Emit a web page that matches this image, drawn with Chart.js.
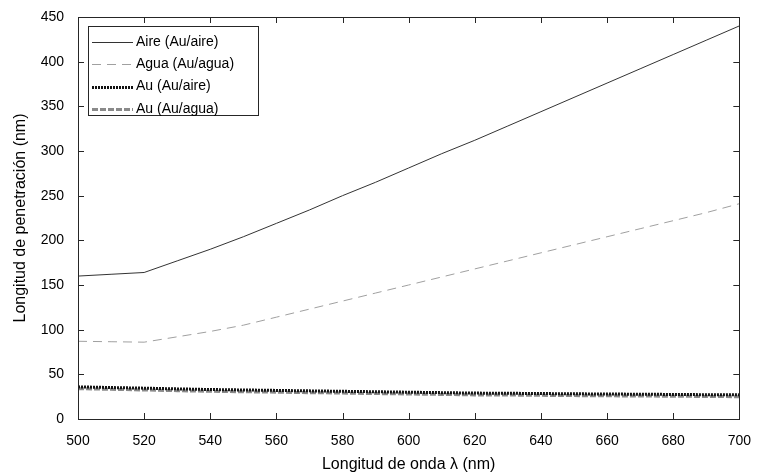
<!DOCTYPE html>
<html lang="es">
<head>
  <meta charset="UTF-8">
  <title>Longitud de penetración</title>
  <style>
    body { margin: 0; padding: 0; background: #fff; }
    #wrap { width: 757px; height: 474px; }
  </style>
  <script src="https://cdn.jsdelivr.net/npm/chart.js"></script>
</head>
<body>
  <div id="wrap"><canvas id="chart" width="757" height="474"></canvas></div>
  <script>
    // wavelengths (nm)
    const wavelengths = [500, 510, 520, 530, 540, 550, 560, 570, 580, 590, 600, 610, 620, 630, 640, 650, 660, 670, 680, 690, 700];
    // penetration lengths (nm)
    const aireAuAire  = [160, 162, 164, 177, 190, 204, 219, 234, 250, 265, 281, 297, 312, 328, 344, 360, 376, 392, 408, 424, 440];
    const aguaAuAgua  = [87, 86.5, 86, 92, 98, 105, 114, 123, 132, 141, 150, 159, 168, 177, 186, 195, 204, 213, 222, 231, 241];
    const auAuAire    = [36, 35.2, 34.5, 33.7, 33, 32.5, 32, 31.5, 31, 30.5, 30, 29.5, 29, 28.8, 28.5, 28.2, 28, 27.7, 27.5, 27.2, 27];
    const auAuAgua    = [34, 33.2, 32.5, 31.7, 31, 30.5, 30, 29.5, 29, 28.5, 28, 27.5, 27, 26.8, 26.5, 26.2, 26, 25.7, 25.5, 25.2, 25];
    const seriesNames = ['Aire (Au/aire)', 'Agua (Au/agua)', 'Au (Au/aire)', 'Au (Au/agua)'];

    const FONT = '"Liberation Sans", Arial, sans-serif';

    function pts(ys) {
      return wavelengths.map((x, i) => ({ x: x, y: ys[i] }));
    }

    // box around the plot, inward ticks and the legend
    const boxPlugin = {
      id: 'box',
      afterDraw(chart) {
        const ctx = chart.ctx;
        const a = chart.chartArea;
        const xs = chart.scales.x, ys = chart.scales.y;
        ctx.save();
        ctx.strokeStyle = '#262626';
        ctx.lineWidth = 1;
        ctx.strokeRect(Math.round(a.left) + 0.5, Math.round(a.top) + 0.5,
                       Math.round(a.right - a.left), Math.round(a.bottom - a.top));
        ctx.beginPath();
        xs.ticks.forEach(t => {
          const px = Math.round(xs.getPixelForValue(t.value)) + 0.5;
          ctx.moveTo(px, a.bottom); ctx.lineTo(px, a.bottom - 6);
          ctx.moveTo(px, a.top); ctx.lineTo(px, a.top + 6);
        });
        ys.ticks.forEach(t => {
          const py = Math.round(ys.getPixelForValue(t.value)) + 0.5;
          ctx.moveTo(a.left, py); ctx.lineTo(a.left + 6, py);
          ctx.moveTo(a.right, py); ctx.lineTo(a.right - 6, py);
        });
        ctx.stroke();

        // legend
        const lx = a.left + 10, ly = a.top + 9, lw = 170, lh = 89;
        ctx.fillStyle = '#fff';
        ctx.fillRect(lx, ly, lw, lh);
        ctx.strokeStyle = '#262626';
        ctx.strokeRect(lx + 0.5, ly + 0.5, lw, lh);
        ctx.font = '14px ' + FONT;
        ctx.textBaseline = 'middle';
        chart.data.datasets.forEach((ds, i) => {
          const y = ly + 16 + i * 22.3;
          ctx.beginPath();
          ctx.strokeStyle = ds.borderColor;
          ctx.lineWidth = ds.borderWidth;
          ctx.setLineDash(ds.borderDash || []);
          ctx.moveTo(lx + 4, Math.round(y) + 0.5);
          ctx.lineTo(lx + 45, Math.round(y) + 0.5);
          ctx.stroke();
          ctx.setLineDash([]);
          ctx.fillStyle = '#000';
          ctx.fillText(ds.label, lx + 48, y);
        });
        ctx.restore();
      }
    };

    new Chart(document.getElementById('chart'), {
      type: 'line',
      data: {
        datasets: [
          { label: seriesNames[0], data: pts(aireAuAire), borderColor: '#333333', borderWidth: 1 },
          { label: seriesNames[1], data: pts(aguaAuAgua), borderColor: '#a0a0a0', borderWidth: 1, borderDash: [9, 6] },
          { label: seriesNames[2], data: pts(auAuAire), borderColor: '#111111', borderWidth: 3, borderDash: [2, 1] },
          { label: seriesNames[3], data: pts(auAuAgua), borderColor: '#8a8a8a', borderWidth: 3, borderDash: [6, 2] }
        ]
      },
      options: {
        responsive: false,
        animation: false,
        layout: { padding: { top: 17, right: 17, left: 0, bottom: 0 } },
        elements: { point: { radius: 0 }, line: { tension: 0 } },
        plugins: { legend: { display: false }, tooltip: { enabled: false } },
        scales: {
          x: {
            type: 'linear', min: 500, max: 700,
            grid: { display: false }, border: { display: false },
            ticks: { stepSize: 20, color: '#000', font: { family: FONT, size: 14 }, padding: 6, maxRotation: 0 },
            title: { display: true, text: 'Longitud de onda λ (nm)', color: '#000', font: { family: FONT, size: 16 }, padding: { top: 2, bottom: 0 } },
            afterFit(s) { s.height = 55; }
          },
          y: {
            min: 0, max: 450,
            grid: { display: false }, border: { display: false },
            ticks: { stepSize: 50, color: '#000', font: { family: FONT, size: 14 }, padding: 6 },
            title: { display: true, text: 'Longitud de penetración (nm)', color: '#000', font: { family: FONT, size: 16 }, padding: { top: 11, bottom: 0 } },
            afterFit(s) { s.width = 78; }
          }
        }
      },
      plugins: [boxPlugin]
    });
  </script>
</body>
</html>
